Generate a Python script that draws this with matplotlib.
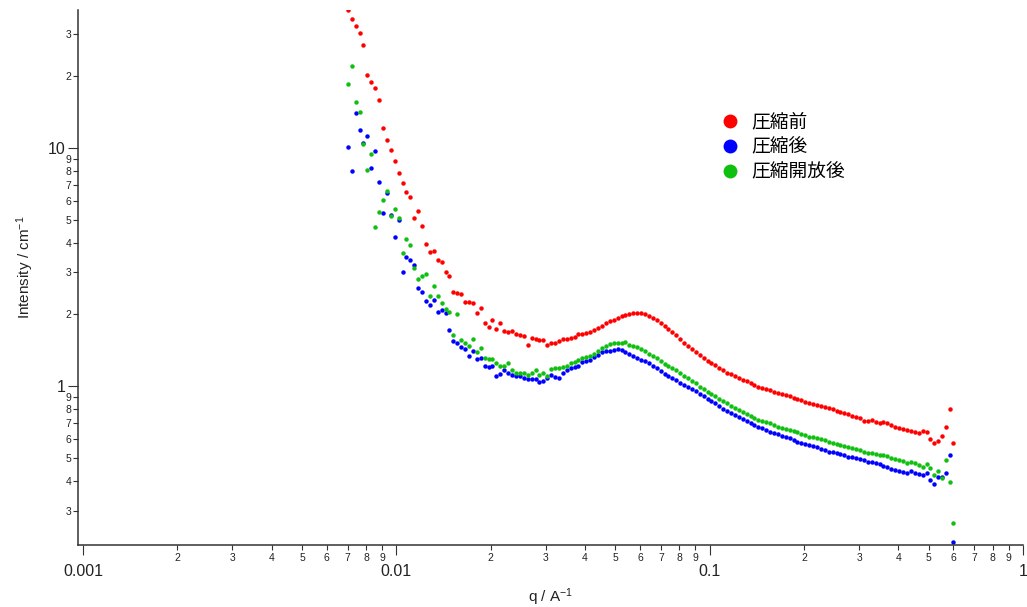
import numpy as np
import matplotlib
matplotlib.use("Agg")
import matplotlib.pyplot as plt
from matplotlib.ticker import LogLocator, FuncFormatter
from matplotlib.lines import Line2D

# ---------------- data ----------------
series_names = ["圧縮前", "圧縮後", "圧縮開放後"]
series_colors = ["#ff0000", "#0000ff", "#10c010"]

q = [0.00700, 0.00720, 0.00741, 0.00763, 0.00785, 0.00808, 0.00832, 0.00856, 0.00881, 0.00907,
     0.00933, 0.00960, 0.00988, 0.01017, 0.01047, 0.01077, 0.01109, 0.01141, 0.01174, 0.01209,
     0.01244, 0.01280, 0.01317, 0.01356, 0.01395, 0.01436, 0.01478, 0.01521, 0.01565, 0.01611,
     0.01658, 0.01706, 0.01756, 0.01807, 0.01860, 0.01914, 0.01970, 0.02027, 0.02086, 0.02147,
     0.02210, 0.02274, 0.02340, 0.02408, 0.02479, 0.02551, 0.02625, 0.02702, 0.02781, 0.02862,
     0.02945, 0.03031, 0.03119, 0.03210, 0.03304, 0.03400, 0.03499, 0.03601, 0.03706, 0.03814,
     0.03925, 0.04040, 0.04157, 0.04279, 0.04403, 0.04532, 0.04664, 0.04800, 0.04940, 0.05083,
     0.05232, 0.05384, 0.05541, 0.05703, 0.05869, 0.06040, 0.06216, 0.06397, 0.06583, 0.06775,
     0.06973, 0.07176, 0.07385, 0.07600, 0.07822, 0.08050, 0.08284, 0.08526, 0.08774, 0.09030,
     0.09293, 0.09564, 0.09843, 0.1013, 0.1042, 0.1073, 0.1104, 0.1136, 0.1169, 0.1203,
     0.1238, 0.1274, 0.1312, 0.1350, 0.1389, 0.1430, 0.1471, 0.1514, 0.1558, 0.1604,
     0.1650, 0.1699, 0.1748, 0.1799, 0.1852, 0.1906, 0.1961, 0.2018, 0.2077, 0.2138,
     0.2200, 0.2264, 0.2330, 0.2398, 0.2468, 0.2540, 0.2614, 0.2691, 0.2769, 0.2850,
     0.2933, 0.3019, 0.3107, 0.3197, 0.3290, 0.3386, 0.3485, 0.3587, 0.3691, 0.3799,
     0.3910, 0.4024, 0.4141, 0.4262, 0.4386, 0.4514, 0.4646, 0.4781, 0.4921, 0.5064,
     0.5212, 0.5364, 0.5520, 0.5681, 0.5847, 0.600]

i_before = [38.0, 34.8, 32.5, 30.5, 27.1, 20.3, 19.0, 17.9, 15.9, 12.1,
            10.8, 9.81, 8.82, 7.86, 7.14, 6.53, 6.22, 5.08, 5.44, 4.70,
            3.96, 3.66, 3.69, 3.38, 3.31, 3.01, 2.90, 2.48, 2.46, 2.44,
            2.25, 2.25, 2.23, 2.03, 2.13, 1.84, 1.77, 1.89, 1.74, 1.84,
            1.70, 1.69, 1.70, 1.65, 1.64, 1.62, 1.49, 1.59, 1.58, 1.56,
            1.56, 1.49, 1.52, 1.52, 1.55, 1.58, 1.58, 1.59, 1.61, 1.65,
            1.65, 1.67, 1.69, 1.72, 1.75, 1.79, 1.84, 1.88, 1.89, 1.93,
            1.97, 1.99, 2.01, 2.03, 2.03, 2.03, 2.01, 1.97, 1.93, 1.89,
            1.84, 1.79, 1.74, 1.69, 1.64, 1.58, 1.52, 1.47, 1.43, 1.39,
            1.35, 1.31, 1.27, 1.25, 1.23, 1.19, 1.17, 1.14, 1.12, 1.10,
            1.08, 1.06, 1.05, 1.03, 1.01, 0.990, 0.981, 0.971, 0.962, 0.944,
            0.935, 0.926, 0.917, 0.908, 0.890, 0.882, 0.873, 0.856, 0.848, 0.840,
            0.832, 0.824, 0.816, 0.808, 0.800, 0.785, 0.777, 0.770, 0.762, 0.748,
            0.741, 0.734, 0.713, 0.713, 0.720, 0.706, 0.699, 0.706, 0.699, 0.686,
            0.673, 0.666, 0.660, 0.653, 0.647, 0.641, 0.635, 0.647, 0.641, 0.599,
            0.576, 0.587, 0.617, 0.673, 0.800, 0.576]

i_after = [10.1, 8.01, 14.0, 11.9, 10.5, 11.2, 8.24, 9.71, 7.19, 5.33,
           6.47, 5.23, 4.23, 4.98, 3.01, 3.48, 3.38, 3.22, 2.58, 2.48,
           2.28, 2.19, 2.30, 2.05, 2.09, 2.03, 1.72, 1.55, 1.52, 1.46,
           1.43, 1.34, 1.40, 1.30, 1.31, 1.22, 1.20, 1.21, 1.10, 1.12,
           1.17, 1.14, 1.11, 1.10, 1.10, 1.08, 1.07, 1.07, 1.07, 1.04,
           1.05, 1.08, 1.11, 1.09, 1.08, 1.13, 1.17, 1.19, 1.20, 1.21,
           1.26, 1.27, 1.29, 1.32, 1.35, 1.39, 1.40, 1.40, 1.42, 1.43,
           1.42, 1.39, 1.36, 1.34, 1.31, 1.29, 1.27, 1.25, 1.21, 1.19,
           1.16, 1.12, 1.10, 1.08, 1.06, 1.03, 1.01, 0.990, 0.971, 0.953,
           0.926, 0.908, 0.882, 0.865, 0.848, 0.824, 0.800, 0.785, 0.770, 0.755,
           0.741, 0.727, 0.713, 0.699, 0.686, 0.673, 0.666, 0.653, 0.641, 0.635,
           0.629, 0.617, 0.611, 0.605, 0.593, 0.582, 0.576, 0.570, 0.565, 0.560,
           0.554, 0.544, 0.538, 0.528, 0.528, 0.523, 0.518, 0.513, 0.503, 0.503,
           0.498, 0.494, 0.489, 0.479, 0.479, 0.475, 0.470, 0.461, 0.457, 0.448,
           0.444, 0.440, 0.436, 0.431, 0.440, 0.431, 0.427, 0.423, 0.431, 0.403,
           0.387, 0.414, 0.414, 0.431, 0.513, 0.221]

i_released = [18.6, 22.1, 15.6, 14.2, 10.4, 8.08, 9.44, 4.66, 5.38, 6.05,
              6.58, 5.18, 5.54, 5.08, 3.62, 4.15, 3.91, 3.13, 2.82, 2.90,
              2.95, 2.39, 2.63, 2.39, 2.23, 2.11, 2.05, 1.64, 2.01, 1.56,
              1.52, 1.47, 1.58, 1.39, 1.44, 1.31, 1.30, 1.30, 1.25, 1.22,
              1.22, 1.25, 1.17, 1.14, 1.14, 1.14, 1.11, 1.14, 1.17, 1.11,
              1.13, 1.10, 1.18, 1.19, 1.19, 1.20, 1.22, 1.25, 1.26, 1.29,
              1.31, 1.32, 1.34, 1.36, 1.40, 1.44, 1.47, 1.50, 1.52, 1.52,
              1.52, 1.53, 1.49, 1.47, 1.46, 1.43, 1.40, 1.36, 1.34, 1.31,
              1.27, 1.24, 1.21, 1.19, 1.17, 1.13, 1.10, 1.08, 1.05, 1.03,
              0.990, 0.971, 0.944, 0.926, 0.908, 0.882, 0.865, 0.848, 0.824, 0.808,
              0.793, 0.777, 0.762, 0.748, 0.734, 0.720, 0.713, 0.706, 0.699, 0.686,
              0.673, 0.666, 0.660, 0.653, 0.647, 0.641, 0.629, 0.623, 0.611, 0.611,
              0.605, 0.599, 0.593, 0.582, 0.576, 0.570, 0.565, 0.560, 0.554, 0.549,
              0.544, 0.538, 0.528, 0.523, 0.523, 0.518, 0.513, 0.513, 0.508, 0.498,
              0.494, 0.489, 0.484, 0.475, 0.479, 0.475, 0.466, 0.457, 0.470, 0.452,
              0.423, 0.440, 0.410, 0.489, 0.395, 0.266]

# ---------------- figure ----------------
plt.rcParams["font.family"] = ["Liberation Sans", "Noto Sans CJK JP", "DejaVu Sans"]
plt.rcParams["mathtext.default"] = "regular"

W, H = 1027, 607
fig = plt.figure(figsize=(W / 100, H / 100), dpi=100)
ax = fig.add_axes([78 / W, 1 - 545 / H, (1023 - 78) / W, (545 - 10) / H])

for vals, c in zip([i_before, i_after, i_released], series_colors):
    ax.plot(q, vals, linestyle="none", marker="o", ms=3.2, mew=0, color=c)

ax.set_xscale("log")
ax.set_yscale("log")
ax.set_xlim(0.000964, 1.0)
ax.set_ylim(0.215, 38.0)

for s in ["top", "right"]:
    ax.spines[s].set_visible(False)
for s in ["left", "bottom"]:
    ax.spines[s].set_linewidth(1.1)
    ax.spines[s].set_color("#333333")


def major_fmt(v, pos):
    return "%g" % v


def minor_fmt(v, pos):
    e = np.floor(np.log10(v) + 1e-9)
    return "%d" % int(round(v / 10 ** e))


for axis in (ax.xaxis, ax.yaxis):
    axis.set_major_locator(LogLocator(base=10, numticks=20))
    axis.set_minor_locator(LogLocator(base=10, subs=np.arange(2, 10), numticks=40))
    axis.set_major_formatter(FuncFormatter(major_fmt))
    axis.set_minor_formatter(FuncFormatter(minor_fmt))

ax.tick_params(which="major", direction="out", length=7, width=0.8, color="#333333",
               labelsize=11.5, labelcolor="#222222")
ax.tick_params(which="minor", direction="out", length=3.8, width=0.8, color="#333333",
               labelsize=7.5, labelcolor="#222222")
ax.tick_params(axis="x", which="major", pad=7)
ax.tick_params(axis="x", which="minor", pad=2)
ax.tick_params(axis="y", which="major", pad=2)
ax.tick_params(axis="y", which="minor", pad=1)

ax.set_xlabel("q / A$^{-1}$", fontsize=11, color="#222222")
ax.set_ylabel("Intensity / cm$^{-1}$", fontsize=11, color="#222222")
ax.xaxis.set_label_coords(0.5, -0.078)
ax.yaxis.set_label_coords(-0.044, 0.52)

handles = [Line2D([], [], linestyle="none", marker="o", ms=10, mew=0, color=c)
           for c in series_colors]
leg = fig.legend(handles, series_names, loc="center left",
                 bbox_to_anchor=(704 / W, 1 - 147 / H), frameon=False,
                 prop={"family": ["Noto Sans CJK JP"], "size": 13.5},
                 handlelength=1.0, handletextpad=0.6, labelspacing=0.22,
                 borderpad=0.4)

fig.savefig("out.png", dpi=100)
